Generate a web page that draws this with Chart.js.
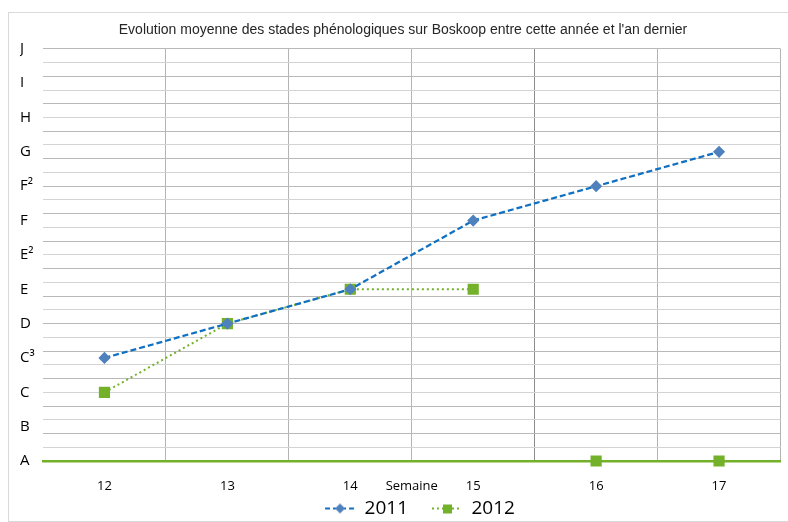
<!DOCTYPE html>
<html>
<head>
<meta charset="utf-8">
<script src="https://cdn.jsdelivr.net/npm/chart.js@4.4.1/dist/chart.umd.min.js"></script>
<style>
  body { margin: 0; background: #fff; }
  #cadre { position: absolute; left: 8px; top: 12px; width: 780px; height: 508px; border: 1px solid #d9d9d9; }
</style>
</head>
<body>
<div id="cadre"><canvas id="graficoStades"></canvas></div>
<script>
// semaines (axe X)
const semaines = ['12', '13', '14', '15', '16', '17'];
// stades phénologiques, index 0 = A ... 12 = J
const stades = ['A', 'B', 'C', 'C³', 'D', 'E', 'E²', 'F', 'F²', 'G', 'H', 'I', 'J'];
// valeurs (index dans stades)
const valeurs2011 = [3, 4, 5, 7, 8, 9];
const valeurs2012 = [2, 4, 5, 5, 0, 0];

const bleu = '#1070c2';
const bleuPoint = '#4f81bd';
const vert = '#74b12a';

// petites icônes de légende (blanc à gauche pour l'écart + trait + marqueur)
function iconeLegende(couleur, dash, couleurPoint, forme) {
  const c = document.createElement('canvas');
  c.width = 54; c.height = 14;
  const g = c.getContext('2d');
  g.strokeStyle = couleur;
  g.lineWidth = 2;
  g.setLineDash(dash);
  g.beginPath(); g.moveTo(24, 7); g.lineTo(54, 7); g.stroke();
  g.fillStyle = couleurPoint;
  if (forme === 'losange') {
    g.beginPath(); g.moveTo(39, 2); g.lineTo(44, 7); g.lineTo(39, 12); g.lineTo(34, 7); g.closePath(); g.fill();
  } else {
    g.fillRect(35, 3, 9, 9);
  }
  return c;
}
const icones = [
  iconeLegende(bleu, [5, 3], bleuPoint, 'losange'),
  iconeLegende(vert, [2, 3], vert, 'carre')
];

// décale un peu la légende (comme dans le graphique Excel)
const decaleLegende = {
  id: 'decaleLegende',
  afterLayout(chart) {
    const l = chart.legend;
    l.top += 7; l.bottom += 7;
    l.left += 5; l.right += 5;
  }
};

new Chart(document.getElementById('graficoStades'), {
  type: 'line',
  data: {
    labels: semaines,
    datasets: [
      {
        label: '2011',
        data: valeurs2011,
        borderColor: bleu,
        borderWidth: 2.25,
        borderDash: [6, 3],
        pointStyle: 'rectRot',
        pointRadius: 4.5,
        pointBackgroundColor: bleuPoint,
        pointBorderColor: bleuPoint,
        tension: 0,
        clip: false
      },
      {
        label: '2012',
        data: valeurs2012,
        borderColor: vert,
        borderWidth: 2,
        borderDash: [2, 3],
        pointStyle: 'rect',
        pointRadius: 6.5,
        pointBackgroundColor: vert,
        pointBorderColor: vert,
        tension: 0,
        clip: false,
        segment: {
          // pas de trait vers les semaines sans relevé
          borderColor: ctx => ctx.p1.parsed.y === 0 ? 'rgba(0,0,0,0)' : undefined
        }
      }
    ]
  },
  options: {
    responsive: true,
    maintainAspectRatio: false,
    animation: false,
    layout: { padding: { left: 11, right: 3, top: 0, bottom: 0 } },
    plugins: {
      title: {
        display: true,
        text: "Evolution moyenne des stades phénologiques sur Boskoop entre cette année et l'an dernier",
        color: '#262626',
        font: { family: "'Liberation Sans Narrow', 'Liberation Sans', sans-serif", size: 14, weight: 'normal' },
        padding: { top: 9, bottom: 10 }
      },
      legend: {
        position: 'bottom',
        labels: {
          usePointStyle: true,
          pointStyleWidth: 54,
          boxHeight: 14,
          padding: 0,
          color: '#000',
          font: { family: "'Open Sans', sans-serif", size: 19 },
          generateLabels: chart => Chart.defaults.plugins.legend.labels.generateLabels(chart)
            .map((l, i) => Object.assign(l, { pointStyle: icones[i] }))
        }
      },
      tooltip: { enabled: false }
    },
    scales: {
      x: {
        offset: true,
        afterFit: scale => { scale.height = 31; },
        grid: {
          offset: true,
          drawTicks: false,
          color: ctx => ctx.index === 0 ? 'rgba(0,0,0,0)' : (ctx.index === 4 ? '#8c8c8c' : '#b4b4b4'),
          lineWidth: 1
        },
        border: { display: true, color: vert, width: 2.5 },
        ticks: {
          color: '#000',
          padding: 17,
          font: { family: "'Open Sans', sans-serif", size: 13 }
        },
        title: {
          display: true,
          text: 'Semaine',
          color: '#000',
          font: { family: "'Open Sans', sans-serif", size: 13 },
          padding: { top: 0, bottom: -1.8 }
        }
      },
      y: {
        min: 0,
        max: 12,
        afterBuildTicks: scale => {
          // un trait tous les 0,4 stade + une étiquette à chaque stade
          const t = [];
          for (let i = 0; i <= 60; i++) {
            if (i % 2 === 0 || i % 5 === 0) t.push({ value: Math.round(i * 2) / 10 });
          }
          scale.ticks = t;
        },
        afterFit: scale => { scale.width = 23; },
        grid: {
          drawTicks: false,
          color: ctx => {
            const v = ctx.tick ? ctx.tick.value : 0;
            const k = Math.round(v * 5);
            if (k % 2 !== 0) return 'rgba(0,0,0,0)';
            return (k % 4 === 0) ? '#b9b9b9' : '#d4d4d4';
          }
        },
        border: { display: false },
        ticks: {
          autoSkip: false,
          crossAlign: 'far',
          color: '#000',
          font: { family: "'Open Sans', sans-serif", size: 15 },
          callback: v => Math.abs(v - Math.round(v)) < 1e-6 ? stades[Math.round(v)] : ''
        }
      }
    }
  },
  plugins: [decaleLegende]
});
</script>
</body>
</html>
